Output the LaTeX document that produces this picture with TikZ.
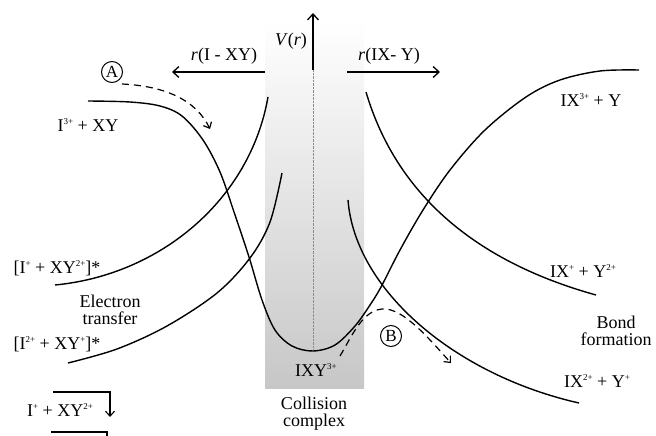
\documentclass[tikz,border=0pt]{standalone}
\usepackage{fontspec}
\setmainfont{Liberation Serif}
\usetikzlibrary{arrows.meta}
\newcommand\sps[1]{\raisebox{0.75ex}{\fontsize{9}{9}\selectfont #1}}
\begin{document}
\begin{tikzpicture}[x=1pt,y=-1pt,
  curve/.style={line width=1.4pt},
  dcurve/.style={line width=1.2pt,dash pattern=on 7pt off 5pt,-{Straight Barb[length=5pt,width=9pt]}},
  axarrow/.style={line width=1.3pt,-{Straight Barb[length=6pt,width=11pt]}},
  lbl/.style={font=\fontsize{18}{20}\selectfont,inner sep=0pt,align=center},
  circ/.style={draw,circle,line width=1pt,minimum size=21pt,inner sep=0pt,font=\fontsize{17}{17}\selectfont}]
\useasboundingbox (0,0) rectangle (656,436);
% collision region
\shade[top color=white,bottom color=black!22] (265,20) rectangle (364,388);
\draw[black!45,line width=0.4pt,densely dotted] (313,70) -- (313,350);
% axes
\coordinate (ax0) at (313,70);
\coordinate (ax1) at (313,13);
\draw[axarrow] (ax0) -- (ax1);
\coordinate (la0) at (265,72);
\coordinate (la1) at (172,72);
\draw[axarrow] (la0) -- (la1);
\coordinate (ra0) at (347,72);
\coordinate (ra1) at (440,72);
\draw[axarrow] (ra0) -- (ra1);
\node[lbl] (vr) at (291,41) {\textit{V}(\textit{r})};
\node[lbl] (rl) at (224,56) {\textit{r}(I - XY)};
\node[lbl] (rr) at (389,56) {\textit{r}(IX- Y)};
% potential curves
\draw[curve] plot[smooth,tension=0.55] coordinates {(88,101) (130,102) (160,106) (182,116) (203,140) (220,172) (234,212) (249,257) (262,300) (275,330) (292,346) (313,351) (335,345) (355,326) (370,305) (381,287) (400,250) (423,210) (450,170) (485,130) (526,97) (560,80) (600,71) (639,70)};
\coordinate (p0) at (55,285);
\coordinate (p1) at (268,97);
\draw[curve] (p0) .. controls (160,275) and (250,200) .. (p1);
\draw[curve] plot[smooth,tension=0.55] coordinates {(68,363) (117,349) (167,326) (217,293) (250,258) (270,222) (282,173)};
\coordinate (q0) at (366,92);
\coordinate (q1) at (596,295);
\draw[curve] (q0) .. controls (395,190) and (470,260) .. (q1);
\coordinate (s0) at (348,200);
\coordinate (s1) at (579,403);
\draw[curve] (s0) .. controls (355,290) and (455,375) .. (s1);
% paths A and B
\node[circ] (A) at (112,72) {A};
\node[circ] (B) at (391,336) {B};
\coordinate (a0) at (122,84);
\coordinate (a1) at (210,129);
\draw[dcurve] (a0) .. controls (165,86) and (196,100) .. (a1);
\coordinate (b0) at (340,356);
\coordinate (bm) at (382,309);
\coordinate (b1) at (451,363);
\draw[dcurve] (b0) .. controls (352,336) and (362,311) .. (bm) .. controls (403,307) and (430,340) .. (b1);
% labels
\node[lbl] (l1) at (88,125) {I\sps{3+} + XY};
\node[lbl] (l2) at (57,268) {[I\sps{+} + XY\sps{2+}]*};
\node[lbl] (l3) at (110,310) {Electron\\[-3pt]transfer};
\node[lbl] (l4) at (57,344) {[I\sps{2+} + XY\sps{+}]*};
\node[lbl] (l5) at (60,410) {I\sps{+} + XY\sps{2+}};
\node[lbl] (l6) at (316,370) {IXY\sps{3+}};
\node[lbl] (l7) at (314,414) {Collision\\[-3pt]complex};
\node[lbl] (l8) at (591,100) {IX\sps{3+} + Y};
\node[lbl] (l9) at (583,271) {IX\sps{+} + Y\sps{2+}};
\node[lbl] (l10) at (616,331) {Bond\\[-3pt]formation};
\node[lbl] (l11) at (597,381) {IX\sps{2+} + Y\sps{+}};
% bracket lines at bottom left
\coordinate (k0) at (53,392);
\coordinate (k1) at (110,392);
\coordinate (k2) at (110,417);
\draw[line width=1.1pt,-{Straight Barb[length=5pt,width=9pt]}] (k0) -- (k1) -- (k2);
\coordinate (m0) at (51,432);
\coordinate (m1) at (107,432);
\coordinate (m2) at (107,440);
\draw[line width=1.1pt] (m0) -- (m1) -- (m2);
\end{tikzpicture}
\end{document}
